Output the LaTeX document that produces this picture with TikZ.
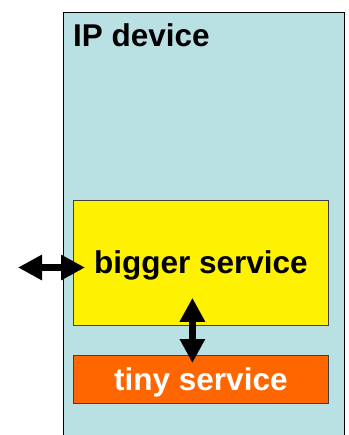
\documentclass[tikz,border=0pt]{standalone}
\usepackage{fontspec}
\setmainfont{Liberation Sans}
\usetikzlibrary{arrows.meta}
\definecolor{devblue}{RGB}{185,224,227}
\definecolor{svcorange}{RGB}{255,102,0}
\tikzset{
  box/.style={draw=black!75, line width=0.8pt, anchor=north west, inner sep=0pt,
    text depth=6pt, font=\bfseries\fontsize{31.5}{36}\selectfont},
  biarrow/.style={line width=7pt,
    {Triangle[length=24pt,width=24pt]}-{Triangle[length=24pt,width=24pt]}},
}
\begin{document}
\begin{tikzpicture}[x=1pt,y=-1pt]
\useasboundingbox (0,0) rectangle (348,435);
\clip (0,0) rectangle (348,435);
% device frame runs off the bottom
\node[box, draw=black, fill=devblue, minimum width=281pt, minimum height=440pt] (device) at (63,12) {};
\node[anchor=base west, inner sep=0pt, font=\bfseries\fontsize{31.5}{36}\selectfont] (title) at (73,47) {IP device};
\node[box, fill=yellow, text height=27pt, minimum width=255pt, minimum height=125pt] (bigger) at (73,200) {bigger service};
\node[box, fill=svcorange, text=white, text height=28pt, minimum width=255pt, minimum height=48pt] (tiny) at (73,355) {tiny service};
\coordinate (outside) at (18,267.5);
\draw[biarrow] (outside) -- ([xshift=12pt]outside -| bigger.west);
\draw[biarrow] ([xshift=-8.5pt,yshift=28pt]bigger.south) -- ([xshift=-8.5pt,yshift=-8pt]tiny.north);
\end{tikzpicture}
\end{document}
